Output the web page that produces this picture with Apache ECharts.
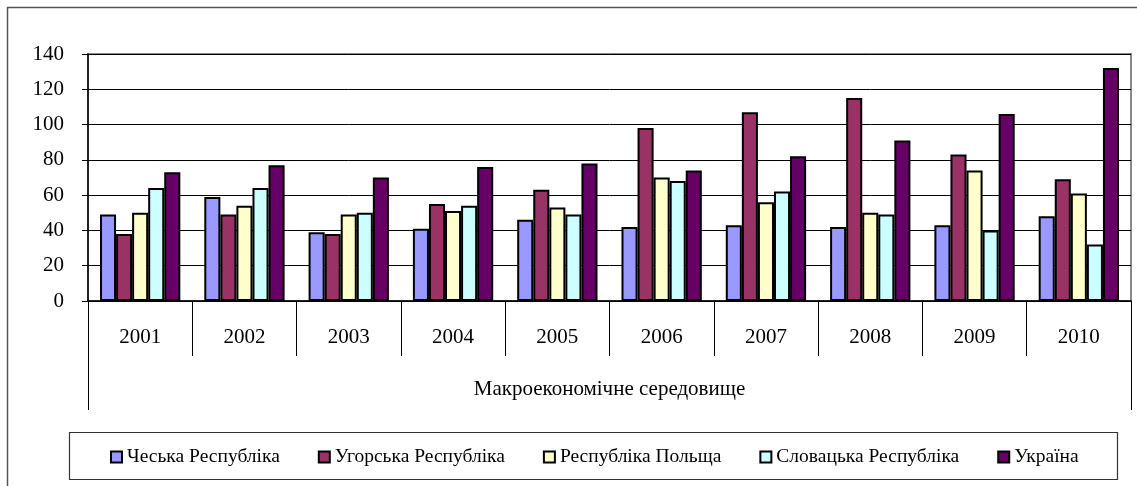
<!DOCTYPE html>
<html>
<head>
<meta charset="utf-8">
<script src="https://cdn.jsdelivr.net/npm/echarts@6/dist/echarts.min.js"></script>
<style>
  html, body { margin: 0; padding: 0; background: #fff; }
  #chart { width: 1137px; height: 486px; }
</style>
</head>
<body>
<div id="chart"></div>
<script>
// роки (категорії)
const years = ['2001', '2002', '2003', '2004', '2005', '2006', '2007', '2008', '2009', '2010'];
const groupName = ['Макроекономічне середовище'];
const yTicks = { min: 0, max: 140, step: 20 };

// значення по країнах
const czech    = [49, 59, 39, 41, 46, 42, 43, 42, 43, 48];
const hungary  = [38, 49, 38, 55, 63, 98, 107, 115, 83, 69];
const poland   = [50, 54, 49, 51, 53, 70, 56, 50, 74, 61];
const slovakia = [64, 64, 50, 54, 49, 68, 62, 49, 40, 32];
const ukraine  = [73, 77, 70, 76, 78, 74, 82, 91, 106, 132];

const seriesNames = ['Чеська Республіка', 'Угорська Республіка', 'Республіка Польща', 'Словацька Республіка', 'Україна'];
const seriesData = [czech, hungary, poland, slovakia, ukraine];
const colors = ['#9999FF', '#993366', '#FFFFCC', '#CCFFFF', '#660066'];

const font = 'Liberation Serif';
const chart = echarts.init(document.getElementById('chart'));

const option = {
  animation: false,
  textStyle: { fontFamily: font, color: '#000' },
  grid: {
    left: 88, top: 54, right: 6, bottom: 185,
    show: true, borderColor: '#888', borderWidth: 2
  },
  graphic: [
    // зовнішня рамка
    { type: 'rect', shape: { x: 7.5, y: 7.5, width: 1140, height: 490 },
      style: { fill: 'none', stroke: '#555', lineWidth: 1.5 }, z: -1 },
    // рамка легенди
    { type: 'rect', shape: { x: 69.5, y: 432.5, width: 1048, height: 47 },
      style: { fill: 'none', stroke: '#333', lineWidth: 1.2 }, z: -1 }
  ],
  legend: {
    data: seriesNames,
    top: 447,
    left: 110,
    padding: [0, 0, 0, 0],
    itemWidth: 11,
    itemHeight: 11,
    itemGap: 38,
    icon: 'rect',
    textStyle: { fontFamily: font, fontSize: 19.5, color: '#000' },
    itemStyle: { borderColor: '#000', borderWidth: 2 }
  },
  xAxis: [
    {
      type: 'category',
      data: years,
      position: 'bottom',
      axisLine: { lineStyle: { color: '#000', width: 1.5 } },
      axisTick: { show: true, interval: 0, length: 55, lineStyle: { color: '#000', width: 1 } },
      axisLabel: { fontFamily: font, fontSize: 21, color: '#000', margin: 26 }
    },
    {
      type: 'category',
      data: groupName,
      position: 'bottom',
      axisLine: { show: false },
      axisTick: { show: true, interval: 0, length: 109, lineStyle: { color: '#000', width: 1 } },
      axisLabel: { fontFamily: font, fontSize: 21, color: '#000', margin: 78 }
    }
  ],
  yAxis: {
    type: 'value',
    min: yTicks.min,
    max: yTicks.max,
    interval: yTicks.step,
    axisLine: { show: true, lineStyle: { color: '#000', width: 1.5 } },
    axisTick: { show: true, length: 6, lineStyle: { color: '#000' } },
    axisLabel: { fontFamily: font, fontSize: 21, color: '#000', margin: 24 },
    splitLine: { lineStyle: { color: '#000', width: 1 } }
  },
  series: seriesNames.map((name, i) => ({
    name: name,
    type: 'bar',
    xAxisIndex: 0,
    data: seriesData[i],
    barGap: '0%',
    barCategoryGap: '23%',
    itemStyle: { color: colors[i], borderColor: '#000', borderWidth: 2 }
  }))
};

chart.setOption(option);
</script>
</body>
</html>
